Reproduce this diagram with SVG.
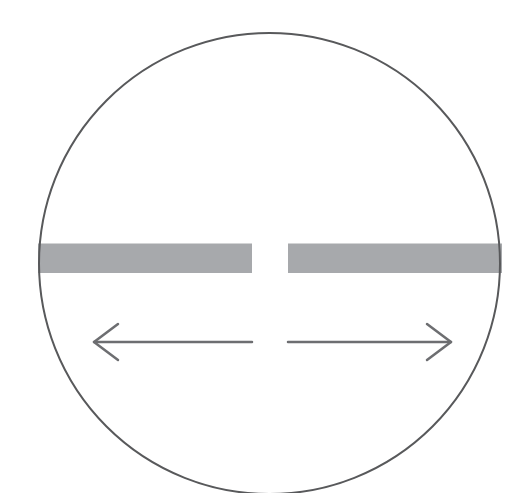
<svg xmlns="http://www.w3.org/2000/svg" width="505" height="493" viewBox="0 0 505 493">
<style>
.bar{fill:#a7a9ac}
.ln{stroke:#6d6e71;stroke-width:2.5;fill:none;stroke-linecap:round;stroke-linejoin:round}
</style>
<rect width="505" height="493" fill="#ffffff"/>
<g id="bars">
<rect class="bar" x="38" y="243.5" width="214" height="29.5"/>
<rect class="bar" x="288" y="243.5" width="214" height="29.5"/>
</g>
<g id="circle">
<circle cx="269.5" cy="263.5" r="230.5" fill="none" stroke="#58595b" stroke-width="2"/>
</g>
<g id="connectors">
<line class="ln" x1="94" y1="342" x2="252" y2="342"/>
<polyline class="ln" points="118,324 94,342 118,360"/>
<line class="ln" x1="288" y1="342" x2="451" y2="342"/>
<polyline class="ln" points="427,324 451,342 427,360"/>
</g>
</svg>
